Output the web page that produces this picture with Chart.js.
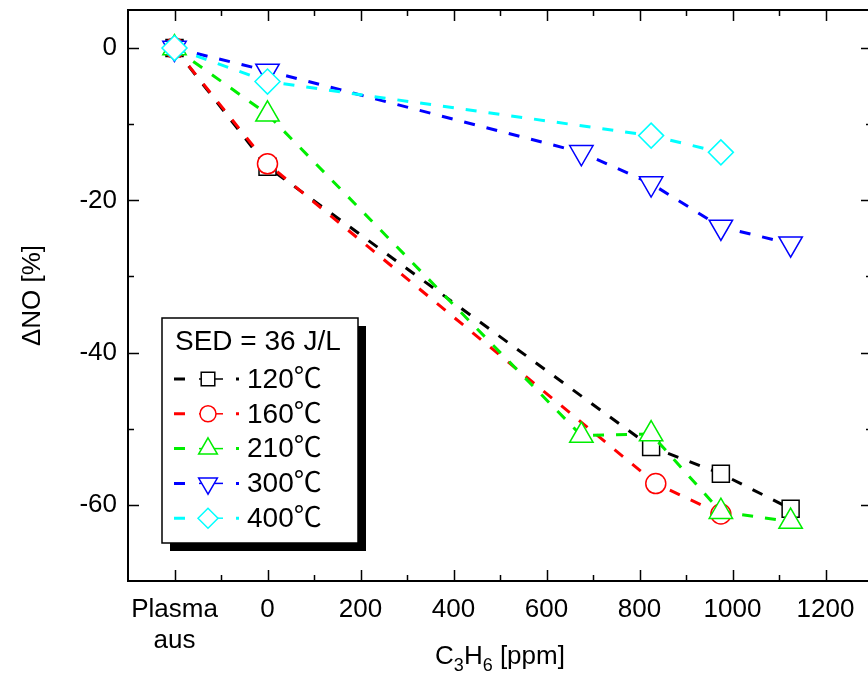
<!DOCTYPE html>
<html>
<head>
<meta charset="utf-8">
<script src="https://cdn.jsdelivr.net/npm/chart.js@4.4.1/dist/chart.umd.min.js"></script>
<style>
  html, body { margin: 0; padding: 0; background: #fff; overflow: hidden; }
  #chart { display: block; }
</style>
</head>
<body>
<canvas id="chart" width="880" height="675"></canvas>
<script>
// --- DATA ---
const PLASMA_AUS = -200; // "Plasma aus" sits on its own tick left of 0

const x120 = [PLASMA_AUS, 0, 825, 975, 1125];
const y120 = [0, -15.6, -52.4, -55.9, -60.5];

const x160 = [PLASMA_AUS, 0, 835, 975];
const y160 = [0, -15.2, -57.2, -61.2];

const x210 = [PLASMA_AUS, 0, 675, 825, 975, 1125];
const y210 = [0, -8.7, -50.9, -50.7, -60.9, -62.2];

const x300 = [PLASMA_AUS, 0, 675, 825, 975, 1125];
const y300 = [0, -3.0, -13.7, -17.8, -23.5, -25.7];

const x400 = [PLASMA_AUS, 0, 825, 975];
const y400 = [0, -4.4, -11.5, -13.7];

const seriesLabels = ['120\u2103', '160\u2103', '210\u2103', '300\u2103', '400\u2103'];
const legendTitle = 'SED = 36 J/L';
const xTickLabels = { '-200': ['Plasma', 'aus'], 0: '0', 200: '200', 400: '400', 600: '600', 800: '800', 1000: '1000', 1200: '1200' };
const yTickLabels = { 0: '0', '-20': '-20', '-40': '-40', '-60': '-60' };

const FONT = "'Liberation Sans', Arial, 'Noto Sans CJK SC', sans-serif";
Chart.defaults.font.family = FONT;
Chart.defaults.font.size = 26;
Chart.defaults.color = '#000';

const pts = (xs, ys) => xs.map((x, i) => ({ x, y: ys[i] }));

function series(label, xs, ys, color, style, radius, order, rotation) {
  return {
    label,
    data: pts(xs, ys),
    borderColor: color,
    borderWidth: 3,
    borderDash: [11, 12],
    pointStyle: style,
    pointRotation: rotation || 0,
    pointRadius: radius,
    pointBorderWidth: 1.5,
    pointBorderColor: color,
    pointBackgroundColor: '#fff',
    fill: false,
    tension: 0,
    order
  };
}

const datasets = [
  series(seriesLabels[0], x120, y120, '#000000', 'rect', 12, 5),
  series(seriesLabels[1], x160, y160, '#ff0000', 'circle', 10, 4),
  series(seriesLabels[2], x210, y210, '#00ee00', 'triangle', 13.5, 3),
  series(seriesLabels[3], x300, y300, '#0000ff', 'triangle', 13.5, 2, 180),
  series(seriesLabels[4], x400, y400, '#00ffff', 'rectRot', 12.5, 1)
];

// frame + inward ticks on all four sides
const framePlugin = {
  id: 'frame',
  afterDatasetsDraw(chart) {
    const { ctx, chartArea: a, scales: { x, y } } = chart;
    ctx.save();
    ctx.strokeStyle = '#000';
    ctx.lineWidth = 2;
    ctx.strokeRect(a.left, a.top, a.right - a.left, a.bottom - a.top);
    ctx.lineWidth = 1.5;
    ctx.beginPath();
    x.ticks.forEach(t => {
      if (t.value <= x.min || t.value >= x.max) return;
      const px = Math.round(x.getPixelForValue(t.value)) + 0.5;
      const len = t.value % 200 === 0 ? 11 : 6;
      ctx.moveTo(px, a.bottom); ctx.lineTo(px, a.bottom - len);
      ctx.moveTo(px, a.top); ctx.lineTo(px, a.top + len);
    });
    y.ticks.forEach(t => {
      if (t.value <= y.min || t.value >= y.max || t.value % 10 !== 0) return;
      const py = Math.round(y.getPixelForValue(t.value)) + 0.5;
      const len = t.value % 20 === 0 ? 11 : 6;
      ctx.moveTo(a.left, py); ctx.lineTo(a.left + len, py);
      ctx.moveTo(a.right, py); ctx.lineTo(a.right - len, py);
    });
    ctx.stroke();
    ctx.restore();
  }
};

// axis titles (x title needs subscripts)
const titlePlugin = {
  id: 'titles',
  afterDraw(chart) {
    const { ctx, chartArea: a } = chart;
    ctx.save();
    ctx.fillStyle = '#000';
    ctx.translate(33, (a.top + a.bottom) / 2);
    ctx.rotate(-Math.PI / 2);
    ctx.font = '26px ' + FONT;
    ctx.textAlign = 'center';
    ctx.textBaseline = 'middle';
    ctx.fillText('\u0394NO [%]', 0, 0);
    ctx.restore();

    // C3H6 [ppm]
    ctx.save();
    ctx.fillStyle = '#000';
    const parts = [['C', 0], ['3', 1], ['H', 0], ['6', 1], [' [ppm]', 0]];
    const big = '26px ' + FONT, small = '18px ' + FONT;
    let w = 0;
    parts.forEach(([s, sub]) => { ctx.font = sub ? small : big; w += ctx.measureText(s).width; });
    let cx = (a.left + a.right) / 2 - w / 2;
    const base = 664;
    ctx.textBaseline = 'alphabetic';
    ctx.textAlign = 'left';
    parts.forEach(([s, sub]) => {
      ctx.font = sub ? small : big;
      ctx.fillText(s, cx, sub ? base + 7 : base);
      cx += ctx.measureText(s).width;
    });
    ctx.restore();
  }
};

// boxed legend with drop shadow inside the plot
const legendPlugin = {
  id: 'boxLegend',
  afterDraw(chart) {
    const { ctx } = chart;
    const bx = 162, by = 318, bw = 196, bh = 225, sh = 8;
    ctx.save();
    ctx.fillStyle = '#000';
    ctx.fillRect(bx + sh, by + sh, bw, bh);
    ctx.fillStyle = '#fff';
    ctx.fillRect(bx, by, bw, bh);
    ctx.strokeStyle = '#000';
    ctx.lineWidth = 1.5;
    ctx.strokeRect(bx, by, bw, bh);

    ctx.fillStyle = '#000';
    ctx.font = '28px ' + FONT;
    ctx.textBaseline = 'middle';
    ctx.textAlign = 'left';
    ctx.fillText(legendTitle, 175, 342);

    chart.data.datasets.forEach((ds, i) => {
      const ry = 379 + i * 34.8;
      ctx.strokeStyle = ds.borderColor;
      ctx.lineWidth = 3;
      ctx.beginPath();
      ctx.moveTo(174, ry); ctx.lineTo(185, ry);
      ctx.moveTo(236, ry); ctx.lineTo(239, ry);
      ctx.stroke();
      ctx.lineWidth = 1.5;
      ctx.beginPath();
      ctx.moveTo(199, ry); ctx.lineTo(223, ry);
      ctx.stroke();
      ctx.fillStyle = '#fff';
      Chart.helpers.drawPoint(ctx, {
        pointStyle: ds.pointStyle,
        rotation: ds.pointRotation,
        radius: ds.pointRadius * 0.8,
        borderWidth: 1.5
      }, 208, ry);
      ctx.fillStyle = '#000';
      ctx.fillText(ds.label, 247, ry + 1);
    });
    ctx.restore();
  }
};

new Chart(document.getElementById('chart'), {
  type: 'line',
  data: { datasets },
  options: {
    responsive: false,
    animation: false,
    layout: { autoPadding: false, padding: { top: 10, right: 8, left: 0, bottom: 0 } },
    plugins: { legend: { display: false }, tooltip: { enabled: false } },
    scales: {
      x: {
        type: 'linear',
        min: -300,
        max: 1300,
        grid: { display: false, drawTicks: false },
        border: { display: false },
        ticks: {
          stepSize: 100,
          autoSkip: false,
          maxRotation: 0,
          padding: 13,
          callback: v => xTickLabels[v] || ''
        },
        afterFit: s => { s.height = 94; s.paddingLeft = 0; s.paddingRight = 0; }
      },
      y: {
        min: -70,
        max: 5,
        grid: { display: false, drawTicks: false },
        border: { display: false },
        ticks: {
          stepSize: 10,
          autoSkip: false,
          padding: 11,
          callback: v => yTickLabels[v] || ''
        },
        afterFit: s => { s.width = 128; s.paddingTop = 0; s.paddingBottom = 0; }
      }
    }
  },
  plugins: [framePlugin, titlePlugin, legendPlugin]
});
</script>
</body>
</html>
